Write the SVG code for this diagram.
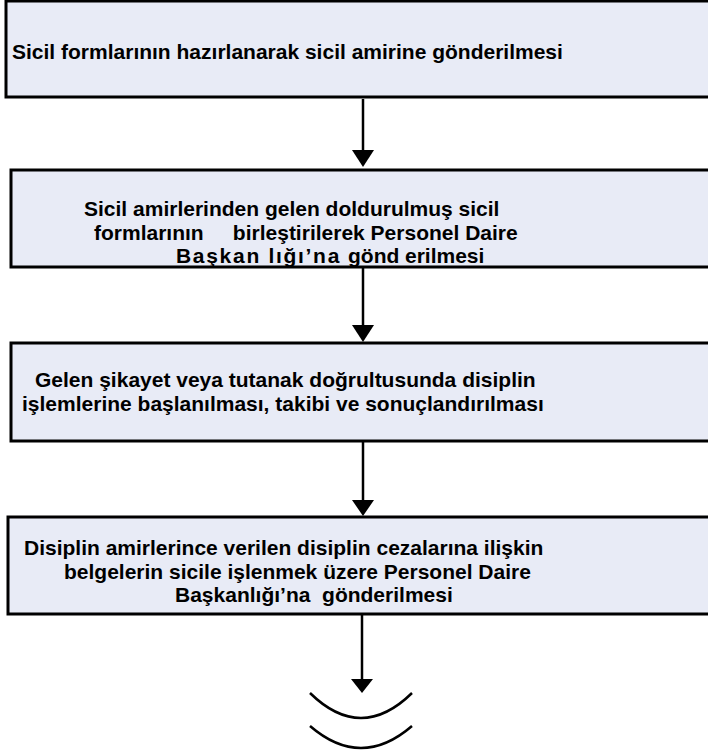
<svg xmlns="http://www.w3.org/2000/svg" width="708" height="753" viewBox="0 0 708 753">
<defs>
<style>
.box{fill:#e8ebf6;stroke:#000;stroke-width:3}
.t{font-family:"Liberation Sans",Arial,sans-serif;font-weight:bold;font-size:21px;fill:#000}
.c{stroke:#000;stroke-width:2.5;fill:none}
</style>
</defs>
<rect width="708" height="753" fill="#fff"/>
<g id="node1">
<rect class="box" x="6" y="1" width="720" height="96"/>
<text class="t" x="12" y="59">Sicil formlarının hazırlanarak sicil amirine gönderilmesi</text>
</g>
<g id="node2">
<rect class="box" x="11" y="170" width="720" height="97"/>
<text class="t" x="84" y="216">Sicil amirlerinden gelen doldurulmuş sicil</text>
<text class="t" x="94" y="240" xml:space="preserve">formlarının     birleştirilerek Personel Daire</text>
<text class="t" y="263"><tspan x="176" letter-spacing="1.7">Başkan lığı’na</tspan><tspan x="348">gönd</tspan><tspan x="405">erilmesi</tspan></text>
</g>
<g id="node3">
<rect class="box" x="11" y="343" width="720" height="98"/>
<text class="t" x="35" y="387">Gelen şikayet veya tutanak doğrultusunda disiplin</text>
<text class="t" x="22" y="411">işlemlerine başlanılması, takibi ve sonuçlandırılması</text>
</g>
<g id="node4">
<rect class="box" x="8" y="517" width="720" height="97"/>
<text class="t" x="24" y="555">Disiplin amirlerince verilen disiplin cezalarına ilişkin</text>
<text class="t" x="64" y="579">belgelerin sicile işlenmek üzere Personel Daire</text>
<text class="t" x="175" y="602" xml:space="preserve">Başkanlığı’na  gönderilmesi</text>
</g>
<g id="connectors">
<path d="M363,99 V150" class="c"/>
<path d="M352,150 L374,150 L363,167 Z" fill="#000"/>
<path d="M363,268 V325" class="c"/>
<path d="M352,325 L374,325 L363,342 Z" fill="#000"/>
<path d="M363,442 V500" class="c"/>
<path d="M352,500 L374,500 L363,516 Z" fill="#000"/>
<path d="M362,615 V679" class="c"/>
<path d="M351,679 L373,679 L362,693 Z" fill="#000"/>
<path d="M310,693 Q361,743 412,693" class="c"/>
<path d="M310,726 Q361,770 412,726" class="c"/>
</g>
</svg>
